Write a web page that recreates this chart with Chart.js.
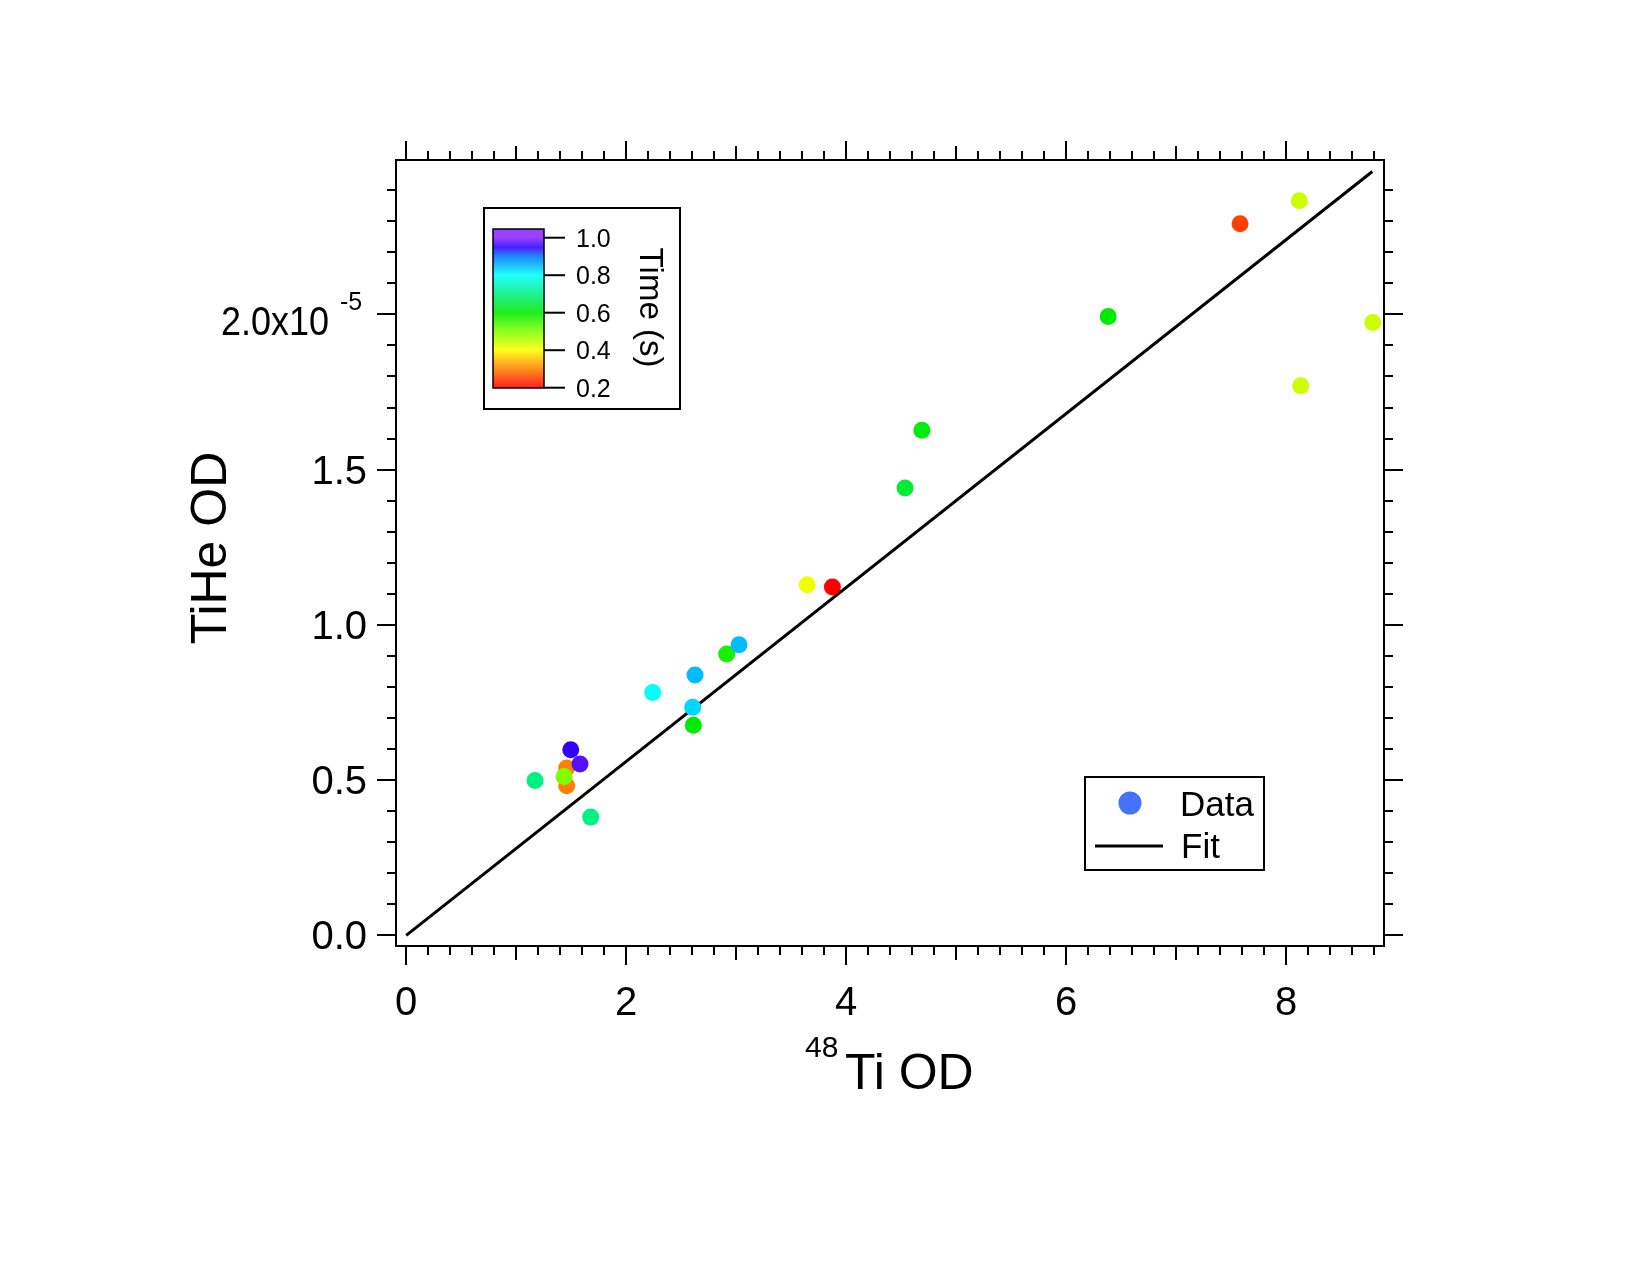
<!DOCTYPE html>
<html><head><meta charset="utf-8">
<script src="https://cdn.jsdelivr.net/npm/chart.js@4/dist/chart.umd.min.js"></script>
<style>html,body{margin:0;padding:0;background:#fff;}canvas{display:block;}</style>
</head><body>
<canvas id="c" width="1650" height="1275"></canvas>
<script>
// ---- data (TiHe OD in units of 1e-5) ----
const ti48OD = [1.171,1.459,1.459,1.496,1.580,1.435,1.677,2.241,2.605,2.626,2.611,2.914,3.026,3.646,3.875,4.536,4.689,6.383,7.582,8.121,8.134,8.789];
const tiHeOD = [0.499,0.482,0.539,0.598,0.552,0.512,0.381,0.782,0.735,0.839,0.677,0.906,0.936,1.129,1.122,1.441,1.627,1.993,2.292,2.366,1.770,1.974];
const timeS  = [0.70,0.30,0.30,0.95,0.97,0.50,0.70,0.80,0.83,0.85,0.60,0.58,0.85,0.41,0.20,0.64,0.61,0.60,0.25,0.44,0.44,0.44];
const fitX = [0, 8.785];
const fitY = [0, 2.460];
const xTickValues = [0,2,4,6,8];
const xTickLabels = ['0','2','4','6','8'];
const yTickValues = [0,0.5,1.0,1.5,2.0];
const yTickLabels = ['0.0','0.5','1.0','1.5','2.0x10'];
const yExponent = '-5';
const cbTickValues = [0.2,0.4,0.6,0.8,1.0];
const cbTickLabels = ['0.2','0.4','0.6','0.8','1.0'];
const xTitleSup = '48', xTitle = 'Ti OD', yTitle = 'TiHe OD', cbTitle = 'Time (s)';
const legendLabels = ['Data','Fit'];

// ---- colour map (rainbow) ----
const cmapStops = [
  [0.2,[255,0,0]],[0.3,[255,128,0]],[0.4,[255,255,0]],[0.5,[128,255,0]],
  [0.6,[0,235,0]],[0.7,[0,240,130]],[0.8,[0,255,255]],[0.9,[0,120,255]],
  [0.95,[50,0,255]],[1.0,[140,40,255]]
];
function cmapRGB(t){
  if (t <= cmapStops[0][0]) return cmapStops[0][1];
  for (let i=1;i<cmapStops.length;i++){
    if (t <= cmapStops[i][0]){
      const [t0,c0]=cmapStops[i-1],[t1,c1]=cmapStops[i];
      const f=(t-t0)/(t1-t0);
      return c0.map((v,k)=>Math.round(v+(c1[k]-v)*f));
    }
  }
  return cmapStops[cmapStops.length-1][1];
}
function cmap(t, light){
  let c = cmapRGB(t);
  if (light) c = c.map(v=>Math.round(v+(255-v)*light));
  return `rgb(${c[0]},${c[1]},${c[2]})`;
}

const FONT = '"Liberation Sans", Arial, Helvetica, sans-serif';

const decor = {
  id:'decor',
  afterDraw(chart){
    const ctx = chart.ctx, xs = chart.scales.x, ys = chart.scales.y, a = chart.chartArea;
    ctx.save();
    ctx.strokeStyle = '#000'; ctx.fillStyle = '#000'; ctx.lineWidth = 2; ctx.lineCap = 'butt';
    // frame
    ctx.strokeRect(a.left, a.top, a.right-a.left, a.bottom-a.top);
    const line=(x1,y1,x2,y2)=>{ctx.beginPath();ctx.moveTo(x1,y1);ctx.lineTo(x2,y2);ctx.stroke();};
    // x ticks (top & bottom) every 0.2
    for (let i=0;i<=44;i++){
      const v=i*0.2; if (v>xs.max) break;
      const px=Math.round(xs.getPixelForValue(v));
      const len = (i%10===0)?19:((i%5===0)?14:9);
      line(px,a.bottom,px,a.bottom+len);
      line(px,a.top,px,a.top-len);
    }
    // y ticks (left & right) every 0.1
    for (let i=0;i<=25;i++){
      const v=i*0.1; if (v>ys.max) break;
      const py=Math.round(ys.getPixelForValue(v));
      const len=(i%5===0)?19:9;
      line(a.left,py,a.left-len,py);
      line(a.right,py,a.right+len,py);
    }
    // x tick labels
    ctx.font = `40px ${FONT}`; ctx.textAlign='center'; ctx.textBaseline='alphabetic';
    xTickValues.forEach((v,i)=>ctx.fillText(xTickLabels[i], xs.getPixelForValue(v), 1015));
    // y tick labels
    yTickValues.forEach((v,i)=>{
      const py=ys.getPixelForValue(v);
      if (i===yTickValues.length-1){
        ctx.font = `40px ${FONT}`; ctx.textAlign='left';
        ctx.fillText(yTickLabels[i], 221, py+20.5, 108);
        ctx.font = `25px ${FONT}`; ctx.textAlign='left';
        ctx.fillText(yExponent, 340, py-4.5);
      } else {
        ctx.font = `40px ${FONT}`; ctx.textAlign='right';
        ctx.fillText(yTickLabels[i], 367, py+14);
      }
    });
    // x title
    ctx.textAlign='left';
    ctx.font = `30px ${FONT}`; ctx.fillText(xTitleSup, 805, 1057);
    ctx.font = `50px ${FONT}`; ctx.fillText(xTitle, 845, 1089);
    // y title
    ctx.save(); ctx.translate(226, 548); ctx.rotate(-Math.PI/2);
    ctx.textAlign='center'; ctx.font = `50px ${FONT}`; ctx.fillText(yTitle, 0, 0);
    ctx.restore();

    // ---- colour-scale legend ----
    ctx.lineWidth = 2;
    ctx.strokeRect(484, 208, 196, 201);
    const barL=493, barR=544, barTop=229, barBot=388;
    const cbPix = t => 387.7 - (t-0.2)*187.5;
    for (let y=barTop; y<barBot; y++){
      const t = 0.2 + (387.7-(y+0.5))/187.5;
      ctx.fillStyle = cmap(t, 0.12);
      ctx.fillRect(barL, y, barR-barL, 1);
    }
    ctx.fillStyle='#000';
    ctx.lineWidth=1.5;
    ctx.strokeRect(barL, barTop, barR-barL, barBot-barTop);
    ctx.lineWidth=2;
    ctx.font = `25px ${FONT}`; ctx.textAlign='left';
    cbTickValues.forEach((v,i)=>{
      const py=cbPix(v);
      line(barR,py,barR+21,py);
      ctx.fillText(cbTickLabels[i], 576, py+9);
    });
    ctx.save(); ctx.translate(640, 307.5); ctx.rotate(Math.PI/2);
    ctx.textAlign='center'; ctx.font = `33px ${FONT}`; ctx.fillText(cbTitle, 0, 0);
    ctx.restore();

    // ---- Data / Fit legend ----
    ctx.lineWidth=2;
    ctx.strokeRect(1085, 777, 179, 93);
    ctx.fillStyle = '#4472ff';
    ctx.beginPath(); ctx.arc(1130, 803, 11.5, 0, Math.PI*2); ctx.fill();
    ctx.fillStyle='#000';
    ctx.lineWidth=3; line(1095, 846, 1163, 846);
    ctx.font = `35px ${FONT}`; ctx.textAlign='left';
    ctx.fillText(legendLabels[0], 1180, 816);
    ctx.fillText(legendLabels[1], 1181, 858);
    ctx.restore();
  }
};

new Chart(document.getElementById('c'), {
  type:'scatter',
  data:{
    datasets:[
      { label:'Data', data: ti48OD.map((x,i)=>({x, y:tiHeOD[i]})),
        pointRadius:8.5, pointHoverRadius:8.5, pointBorderWidth:0,
        pointBackgroundColor: timeS.map(t=>cmap(t)), showLine:false },
      { type:'line', label:'Fit', data: fitX.map((x,i)=>({x, y:fitY[i]})),
        borderColor:'#000', borderWidth:3, pointRadius:0, fill:false, tension:0 }
    ]
  },
  options:{
    responsive:false, animation:false, events:[], devicePixelRatio:1,
    layout:{padding:{left:396, top:160, right:266, bottom:329}},
    plugins:{legend:{display:false}, tooltip:{enabled:false}},
    scales:{
      x:{type:'linear', min:-0.093, max:8.891, display:false},
      y:{type:'linear', min:-0.034, max:2.497, display:false}
    }
  },
  plugins:[decor]
});
</script>
</body></html>
